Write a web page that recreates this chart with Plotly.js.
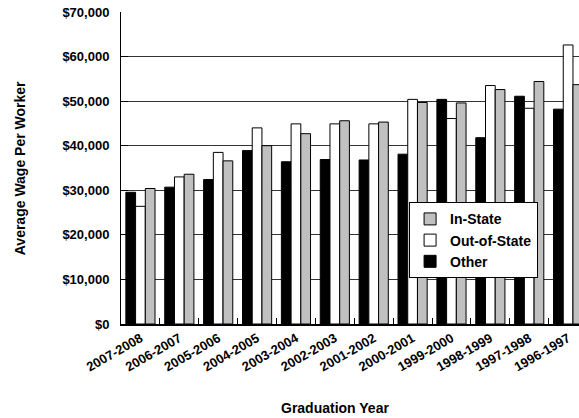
<!DOCTYPE html>
<html>
<head>
<meta charset="utf-8">
<script src="https://cdn.plot.ly/plotly-3.0.1.min.js"></script>
<style>html,body{margin:0;padding:0;background:#fff;}#chart{width:579px;height:418px;}</style>
</head>
<body>
<div id="chart"></div>
<script>
const categories = ["2007-2008","2006-2007","2005-2006","2004-2005","2003-2004","2002-2003","2001-2002","2000-2001","1999-2000","1998-1999","1997-1998","1996-1997"];
const otherValues = [29550, 30700, 32400, 38900, 36400, 36900, 36800, 38100, 50400, 41800, 51100, 48200];
const outOfStateValues = [26400, 33000, 38500, 44000, 44900, 44900, 44900, 50400, 46100, 53500, 48400, 62600];
const inStateValues = [30400, 33600, 36600, 40000, 42700, 45600, 45300, 49700, 49600, 52600, 54400, 53700];
const yTickVals = [0, 10000, 20000, 30000, 40000, 50000, 60000, 70000];
const yTickText = ["$0","$10,000","$20,000","$30,000","$40,000","$50,000","$60,000","$70,000"];

const FONT = "'Liberation Sans', Arial, sans-serif";
const outline = {color: '#000', width: 1};

const traces = [
  {type: 'bar', name: 'Other', x: categories, y: otherValues, marker: {color: '#000000', line: outline}},
  {type: 'bar', name: 'Out-of-State', x: categories, y: outOfStateValues, marker: {color: '#ffffff', line: outline}},
  {type: 'bar', name: 'In-State', x: categories, y: inStateValues, marker: {color: '#c0c0c0', line: outline}}
];

const layout = {
  width: 579, height: 418,
  margin: {l: 121, r: 0, t: 12, b: 94},
  paper_bgcolor: '#fff', plot_bgcolor: '#fff',
  barmode: 'group', bargap: 0.25, bargroupgap: 0,
  showlegend: true,
  hovermode: false,
  font: {family: FONT, size: 14, color: '#000', weight: 'bold'},
  legend: {
    x: 0.629, y: 0.39, xanchor: 'left', yanchor: 'top',
    traceorder: 'reversed', bgcolor: '#fff', bordercolor: '#000', borderwidth: 1,
    font: {family: FONT, size: 14, color: '#000', weight: 'bold'},
    tracegroupgap: 0, itemwidth: 30
  },
  xaxis: {
    type: 'category', range: [-0.5, 11.28], fixedrange: true,
    showline: true, linecolor: '#000', linewidth: 2, mirror: false,
    ticks: 'inside', tickson: 'boundaries', ticklen: 6, tickcolor: '#000', tickwidth: 1,
    tickangle: -30, tickfont: {family: FONT, size: 13, color: '#000', weight: 'bold'},
    showgrid: false, zeroline: false
  },
  yaxis: {
    range: [0, 70000], fixedrange: true,
    tickvals: yTickVals, ticktext: yTickText,
    showline: true, linecolor: '#000', linewidth: 1,
    ticks: 'inside', ticklen: 7, tickcolor: '#000', tickwidth: 1,
    ticklabelstandoff: 8,
    tickfont: {family: FONT, size: 13, color: '#000', weight: 'bold'},
    showgrid: true, gridcolor: '#333', gridwidth: 1, zeroline: false
  },
  annotations: [
    {text: 'Graduation Year', xref: 'paper', yref: 'paper', x: 0.467, y: -0.269, xanchor: 'center', yanchor: 'middle', showarrow: false, font: {family: FONT, size: 14, color: '#000', weight: 'bold'}},
    {text: 'Average Wage Per Worker', xref: 'paper', yref: 'paper', x: -0.22, y: 0.5, xanchor: 'center', yanchor: 'middle', textangle: -90, showarrow: false, font: {family: FONT, size: 14, color: '#000', weight: 'bold'}}
  ]
};

Plotly.newPlot('chart', traces, layout, {displayModeBar: false, staticPlot: true});
</script>
</body>
</html>
